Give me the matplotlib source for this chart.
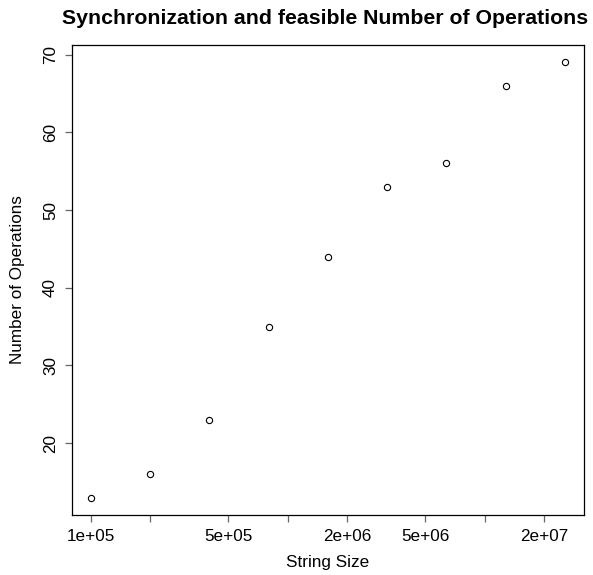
import matplotlib
matplotlib.use("Agg")
import matplotlib.pyplot as plt
from matplotlib.ticker import FixedLocator, FixedFormatter, NullLocator
import numpy as np

plt.rcParams['font.family'] = ['Liberation Sans', 'DejaVu Sans']

# Data
string_size = [1e5, 2e5, 4e5, 8e5, 1.6e6, 3.2e6, 6.4e6, 1.28e7, 2.56e7]
num_operations = [13, 16, 23, 35, 44, 53, 56, 66, 69]

x_ticks = [1e5, 2e5, 5e5, 1e6, 2e6, 5e6, 1e7, 2e7]
x_tick_labels = ["1e+05", "", "5e+05", "", "2e+06", "5e+06", "", "2e+07"]
y_ticks = [20, 30, 40, 50, 60, 70]

W, H = 593, 575
fig = plt.figure(figsize=(W / 100, H / 100), dpi=100)
left, right, top, bottom = 71.8, 584, 45, 515
ax = fig.add_axes([left / W, 1 - bottom / H, (right - left) / W, (bottom - top) / H])

ax.plot(string_size, num_operations, linestyle='none', marker='o',
        markersize=4.5, markerfacecolor='none', markeredgecolor='black',
        markeredgewidth=0.8)

ax.set_xscale('log')
lx = np.log10(string_size)
pad_x = 0.04 * (lx.max() - lx.min())
ax.set_xlim(10 ** (lx.min() - pad_x), 10 ** (lx.max() + pad_x))
ymin, ymax = min(num_operations), max(num_operations)
pad_y = 0.04 * (ymax - ymin)
ax.set_ylim(ymin - pad_y, ymax + pad_y)

ax.xaxis.set_major_locator(FixedLocator(x_ticks))
ax.xaxis.set_major_formatter(FixedFormatter(x_tick_labels))
ax.xaxis.set_minor_locator(NullLocator())
ax.set_yticks(y_ticks)
ax.set_yticklabels([str(v) for v in y_ticks], rotation=90, va='center')

base = 12.3
ax.tick_params(axis='both', direction='out', length=5, width=0.9,
               labelsize=base, color='#666666')
ax.tick_params(axis='x', pad=5)
ax.tick_params(axis='y', pad=5)
for s in ax.spines.values():
    s.set_linewidth(0.9)

fig.text((left + right) / 2 / W, 1 - 563 / H, "String Size",
         fontsize=base, ha='center', va='center')
fig.text(18 / W, 1 - (top + bottom) / 2 / H, "Number of Operations",
         fontsize=base, ha='center', va='center', rotation=90)
fig.text(325.5 / W, 1 - 24.5 / H,
         "Synchronization and feasible Number of Operations",
         fontsize=15.3, fontweight='bold', ha='center', va='baseline')

fig.savefig("out.png", dpi=100)
